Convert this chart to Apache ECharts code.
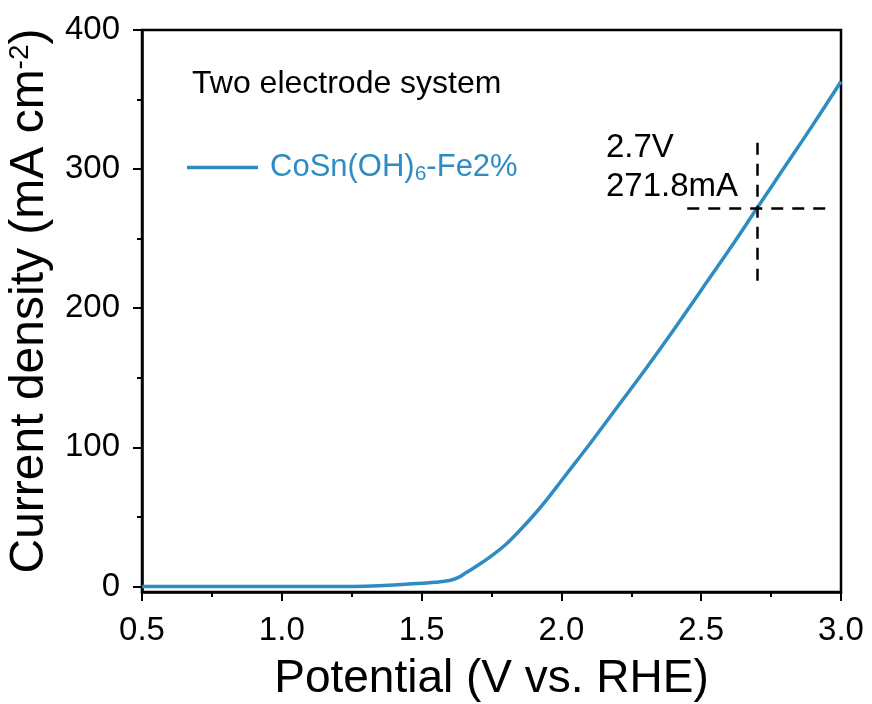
<!DOCTYPE html>
<html>
<head>
<meta charset="utf-8">
<script src="https://cdn.jsdelivr.net/npm/echarts@6/dist/echarts.min.js"></script>
<style>
  html, body { margin: 0; padding: 0; background: #fff; }
  #chart { width: 872px; height: 704px; }
</style>
</head>
<body>
<div id="chart"></div>
<script>
// potential (V vs. RHE) and current density (mA cm-2)
const potential = [0.5, 0.8, 1.0, 1.2, 1.3, 1.4, 1.5, 1.55, 1.6, 1.63, 1.66, 1.7, 1.75, 1.8, 1.85, 1.9, 1.95, 2.0, 2.05, 2.1, 2.2, 2.3, 2.4, 2.5, 2.6, 2.7, 2.8, 2.9, 3.0]
const current = [0, 0, 0, 0, 0.2, 1, 2.3, 3, 4.3, 6.3, 10, 15, 22, 30, 40, 51, 63, 76, 89, 102, 129, 156, 184, 213, 242, 272, 302, 332, 363]
const yMajorTicks = [0, 100, 200, 300, 400]
const yMinorTicks = [50, 150, 250, 350]
// crosshair marking 2.7 V / 271.8 mA
const markV = 2.7
const markJ = 271.8
const vLineRange = [218, 319]
const hLineRange = [2.45, 2.955]

const lineColor = '#2f8cc3'
const font = '"Liberation Sans", Arial, sans-serif'

const chart = echarts.init(document.getElementById('chart'))

const option = {
  backgroundColor: '#fff',
  animation: false,
  grid: {
    left: 142,
    right: 31,
    top: 30,
    bottom: 112,
    outerBoundsMode: 'none',
    show: true,
    borderColor: '#000',
    borderWidth: 2.5
  },
  legend: {
    left: 187,
    top: 152,
    padding: 0,
    icon: 'rect',
    itemWidth: 71,
    itemHeight: 3.5,
    textStyle: { fontFamily: font, fontSize: 31, color: lineColor },
    formatter: () => '{p|}{a|CoSn(OH)}{b|6}{a|-Fe2%}',
    data: [
      {
        name: 'CoSn(OH)6-Fe2%',
        textStyle: {
          rich: {
            p: { width: 7 },
            a: { fontFamily: font, fontSize: 31, color: lineColor },
            b: { fontFamily: font, fontSize: 21, color: lineColor, verticalAlign: 'bottom', padding: [14, 0, 0, 0] }
          }
        }
      }
    ]
  },
  xAxis: {
    type: 'value',
    min: 0.5,
    max: 3.0,
    interval: 0.5,
    name: 'Potential (V vs. RHE)',
    nameLocation: 'middle',
    nameGap: 64,
    nameTextStyle: { fontFamily: font, fontSize: 46, color: '#000' },
    axisLine: { show: true, onZero: false, lineStyle: { color: '#000', width: 2.5 } },
    axisTick: { show: true, inside: false, length: 9, lineStyle: { color: '#000', width: 2 } },
    minorTick: { show: true, splitNumber: 2, length: 5, lineStyle: { color: '#000', width: 2 } },
    axisLabel: {
      fontFamily: font,
      fontSize: 33,
      color: '#000',
      margin: 22,
      formatter: (v) => v.toFixed(1)
    },
    splitLine: { show: false }
  },
  yAxis: [
    {
      type: 'value',
      min: -4,
      max: 400,
      name: 'Current density (mA cm{sup|-2})',
      nameLocation: 'middle',
      nameRotate: 90,
      nameGap: 88,
      nameTextStyle: {
        fontFamily: font,
        fontSize: 48,
        color: '#000',
        padding: [0, 0, 0, 20],
        rich: {
          sup: { fontFamily: font, fontSize: 28, color: '#000', verticalAlign: 'top', padding: [0, 0, 20, 0] }
        }
      },
      axisLine: { show: true, onZero: false, lineStyle: { color: '#000', width: 2.5 } },
      axisTick: { show: true, inside: false, length: 9, customValues: yMajorTicks, lineStyle: { color: '#000', width: 2 } },
      axisLabel: { fontFamily: font, fontSize: 33, color: '#000', margin: 22, customValues: yMajorTicks },
      splitLine: { show: false }
    },
    {
      // minor ticks only
      type: 'value',
      min: -4,
      max: 400,
      position: 'left',
      axisLine: { show: false },
      axisTick: { show: true, inside: false, length: 5, customValues: yMinorTicks, lineStyle: { color: '#000', width: 2 } },
      axisLabel: { show: false, customValues: yMinorTicks },
      splitLine: { show: false }
    }
  ],
  graphic: [
    {
      type: 'text',
      left: 192,
      top: 68,
      style: { text: 'Two electrode system', fontFamily: font, fontSize: 32, fill: '#000' }
    },
    {
      type: 'text',
      left: 606,
      top: 128,
      style: { text: '2.7V\n271.8mA', fontFamily: font, fontSize: 33, lineHeight: 39, fill: '#000' }
    }
  ],
  series: [
    {
      name: 'CoSn(OH)6-Fe2%',
      type: 'line',
      data: potential.map((v, i) => [v, current[i]]),
      smooth: 0.4,
      showSymbol: false,
      color: lineColor,
      lineStyle: { color: lineColor, width: 3.5 },
      markLine: {
        silent: true,
        symbol: 'none',
        label: { show: false },
        lineStyle: { color: '#000', width: 2.5, type: [12, 9] },
        data: [
          [{ coord: [markV, vLineRange[1]] }, { coord: [markV, vLineRange[0]] }],
          [{ coord: [hLineRange[0], markJ] }, { coord: [hLineRange[1], markJ] }]
        ]
      }
    }
  ]
}

chart.setOption(option)
</script>
</body>
</html>
